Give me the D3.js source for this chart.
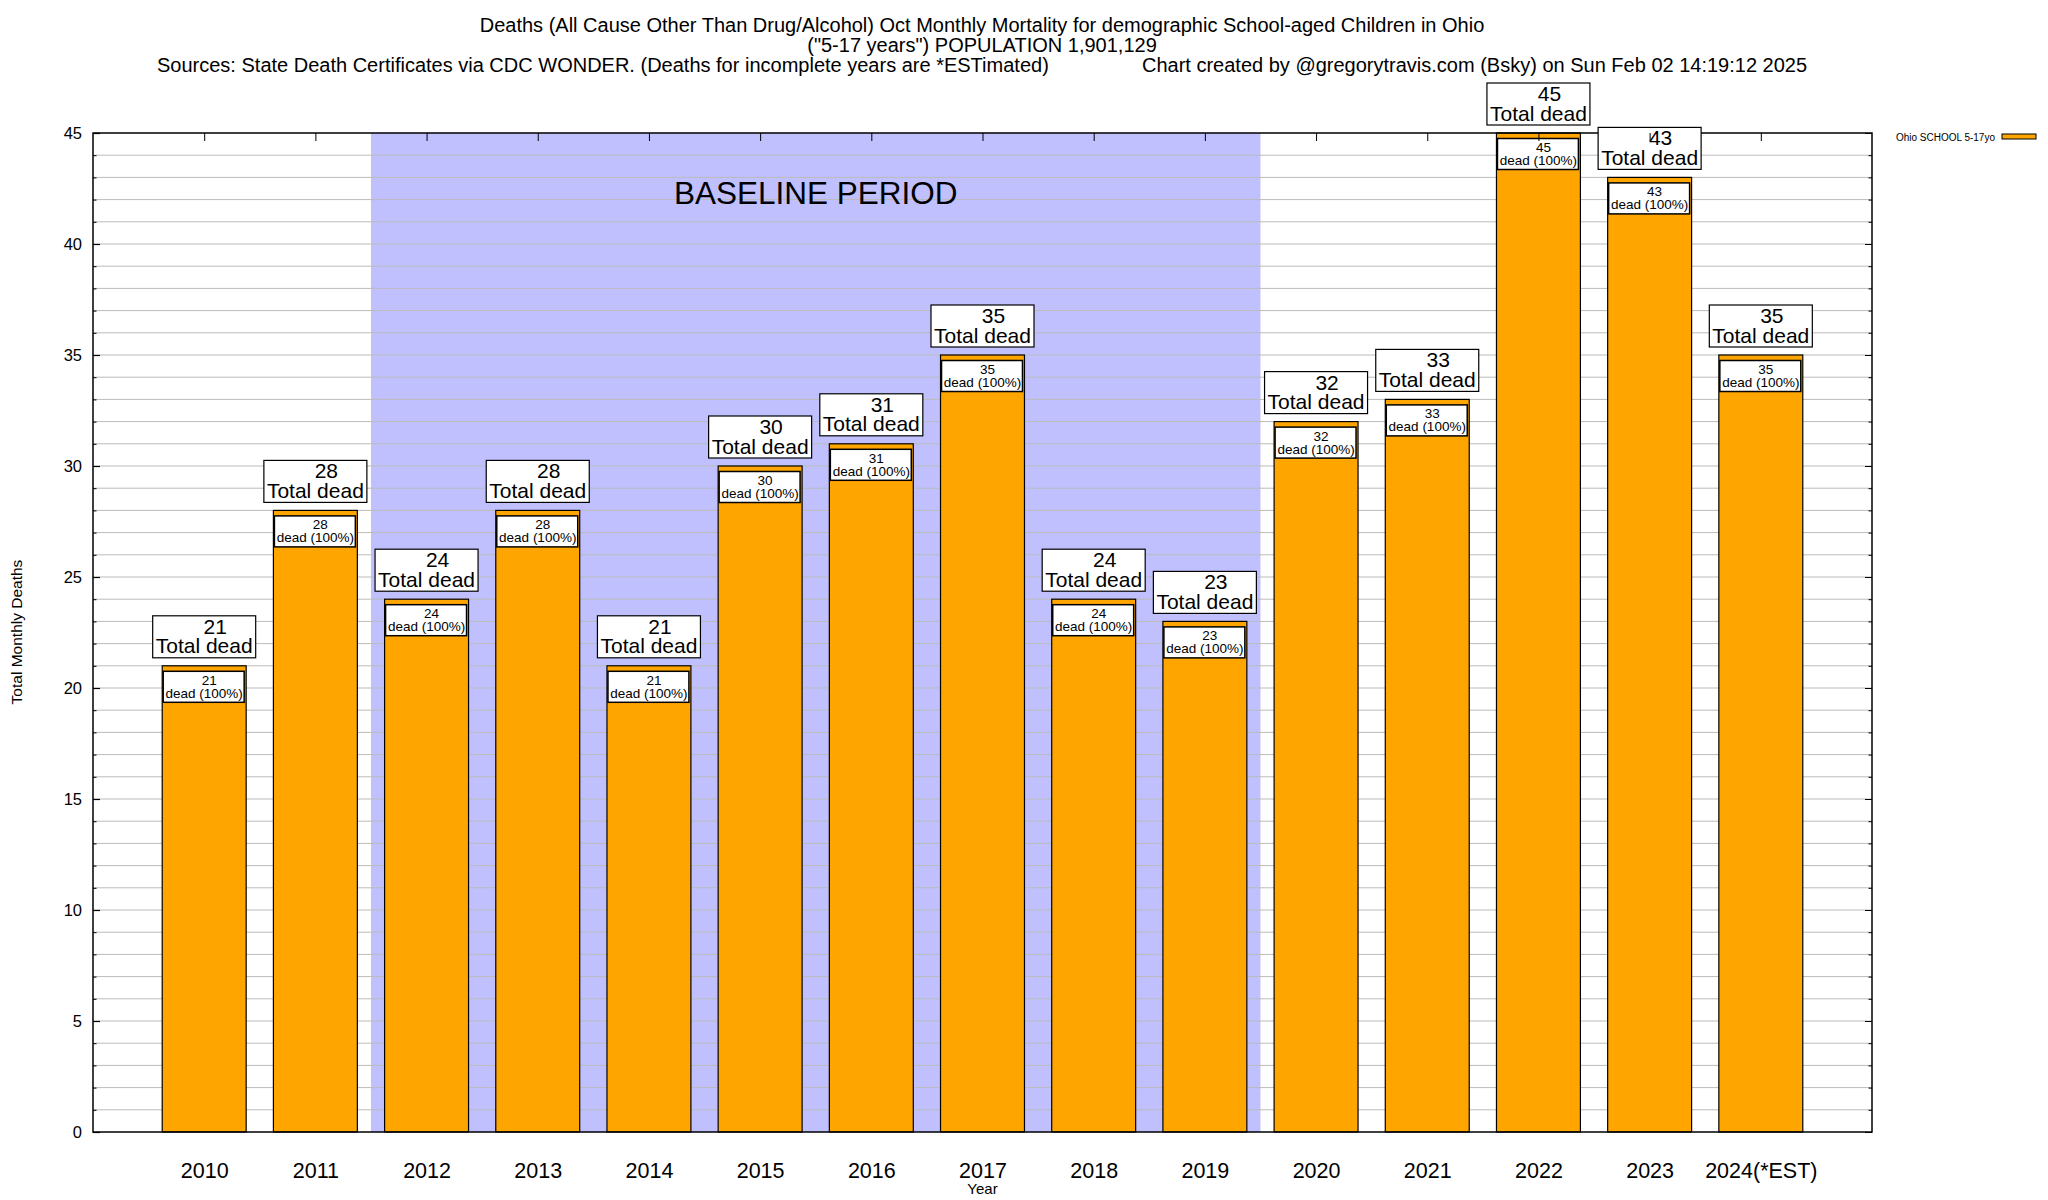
<!DOCTYPE html>
<html>
<head>
<meta charset="utf-8">
<script src="https://cdn.jsdelivr.net/npm/d3@7"></script>
<style>
  body { margin: 0; background: #fff; }
  svg { font-family: "Liberation Sans", Arial, Helvetica, sans-serif; }
</style>
</head>
<body>
<svg id="chart"></svg>
<script>
// data
const years = ["2010", "2011", "2012", "2013", "2014", "2015", "2016", "2017",
    "2018", "2019", "2020", "2021", "2022", "2023", "2024(*EST)"];
const deaths = [21, 28, 24, 28, 21, 30, 31, 35, 24, 23, 32, 33, 45, 43, 35];
const baselineRange = [1.5, 9.5];   // 2012 .. 2019 in bar-index units
const yMajorTicks = [0, 5, 10, 15, 20, 25, 30, 35, 40, 45];
const seriesName = "Ohio SCHOOL 5-17yo";

const titleLines = [
    "Deaths (All Cause Other Than Drug/Alcohol) Oct Monthly Mortality for demographic School-aged Children in Ohio",
    "(\"5-17 years\") POPULATION 1,901,129"
];
const sourceText = "Sources: State Death Certificates via CDC WONDER. (Deaths for incomplete years are *ESTimated)";
const creditText = "Chart created by @gregorytravis.com (Bsky) on Sun Feb 02 14:19:12 2025";

// layout
const W = 2048, H = 1200;
const plot = { left: 93, right: 1872, top: 133, bottom: 1132 };
const orange = "#ffa500";

const svg = d3.select("#chart").attr("width", W).attr("height", H);

const x = d3.scaleLinear().domain([-1, years.length]).range([plot.left, plot.right]);
const y = d3.scaleLinear().domain([0, 45]).range([plot.bottom, plot.top]);
const barW = (x(1) - x(0)) * 0.755;
const idx = d3.range(years.length);

// baseline shading
svg.append("rect")
    .attr("x", x(baselineRange[0]))
    .attr("y", plot.top)
    .attr("width", x(baselineRange[1]) - x(baselineRange[0]))
    .attr("height", plot.bottom - plot.top)
    .attr("fill", "#c0c0ff");

// grid every 1 death
svg.append("g")
    .selectAll("line")
    .data(d3.range(1, 45))
    .join("line")
    .attr("x1", plot.left).attr("x2", plot.right)
    .attr("y1", d => y(d)).attr("y2", d => y(d))
    .attr("stroke", "#bbbbbb")
    .attr("stroke-width", 1);

svg.append("text")
    .attr("x", (x(baselineRange[0]) + x(baselineRange[1])) / 2)
    .attr("y", 204)
    .attr("text-anchor", "middle")
    .attr("font-size", 31.5)
    .text("BASELINE PERIOD");

// bars
svg.append("g")
    .selectAll("rect")
    .data(idx)
    .join("rect")
    .attr("x", i => x(i) - barW / 2)
    .attr("y", i => y(deaths[i]))
    .attr("width", barW)
    .attr("height", i => y(0) - y(deaths[i]))
    .attr("fill", orange)
    .attr("stroke", "#000")
    .attr("stroke-width", 1.2);

// inner labels
const inner = svg.append("g").selectAll("g").data(idx).join("g");
inner.append("rect")
    .attr("x", i => x(i) - barW / 2 + 1)
    .attr("y", i => y(deaths[i]) + 5.5)
    .attr("width", barW - 3)
    .attr("height", 31)
    .attr("fill", "#fff")
    .attr("stroke", "#000")
    .attr("stroke-width", 1.5);
inner.append("text")
    .attr("x", i => x(i) + 5)
    .attr("y", i => y(deaths[i]) + 19)
    .attr("text-anchor", "middle")
    .attr("font-size", 13.5)
    .text(i => deaths[i]);
inner.append("text")
    .attr("x", i => x(i))
    .attr("y", i => y(deaths[i]) + 32)
    .attr("text-anchor", "middle")
    .attr("font-size", 13.5)
    .text("dead (100%)");

// frame
svg.append("rect")
    .attr("x", plot.left).attr("y", plot.top)
    .attr("width", plot.right - plot.left).attr("height", plot.bottom - plot.top)
    .attr("fill", "none")
    .attr("stroke", "#000")
    .attr("stroke-width", 1.5);

// outer labels above bars
const outer = svg.append("g").selectAll("g").data(idx).join("g");
outer.append("rect")
    .attr("x", i => x(i) - 51.5)
    .attr("y", i => y(deaths[i]) - 50)
    .attr("width", 103)
    .attr("height", 42)
    .attr("fill", "#fff")
    .attr("stroke", "#000")
    .attr("stroke-width", 1.2);
outer.append("text")
    .attr("x", i => x(i) + 11)
    .attr("y", i => y(deaths[i]) - 32)
    .attr("text-anchor", "middle")
    .attr("font-size", 21)
    .text(i => deaths[i]);
outer.append("text")
    .attr("x", i => x(i))
    .attr("y", i => y(deaths[i]) - 12.5)
    .attr("text-anchor", "middle")
    .attr("font-size", 21)
    .text("Total dead");

// axes
const yAxis = svg.append("g")
    .attr("transform", "translate(" + plot.left + ",0)")
    .call(d3.axisLeft(y).tickValues(yMajorTicks).tickSize(-7).tickPadding(11));
yAxis.select(".domain").remove();
yAxis.selectAll("text").attr("font-size", 16.5).attr("font-family", null);
yAxis.selectAll("line").attr("stroke-width", 1.2);

const yMinor = svg.append("g")
    .attr("transform", "translate(" + plot.left + ",0)")
    .call(d3.axisLeft(y).ticks(45).tickSize(-3.5).tickFormat(""));
yMinor.select(".domain").remove();

const yRight = svg.append("g")
    .attr("transform", "translate(" + plot.right + ",0)")
    .call(d3.axisRight(y).tickValues(yMajorTicks).tickSize(-7).tickFormat(""));
yRight.select(".domain").remove();
const yRightMinor = svg.append("g")
    .attr("transform", "translate(" + plot.right + ",0)")
    .call(d3.axisRight(y).ticks(45).tickSize(-3.5).tickFormat(""));
yRightMinor.select(".domain").remove();

const xAxis = svg.append("g")
    .attr("transform", "translate(0," + plot.bottom + ")")
    .call(d3.axisBottom(x).tickValues(idx).tickSize(0).tickPadding(31)
        .tickFormat(i => years[i]));
xAxis.select(".domain").remove();
xAxis.selectAll("text").attr("font-size", 21.5).attr("font-family", null);

const xTop = svg.append("g")
    .attr("transform", "translate(0," + plot.top + ")")
    .call(d3.axisTop(x).tickValues(idx).tickSize(-8).tickFormat(""));
xTop.select(".domain").remove();

// axis titles
svg.append("text")
    .attr("x", (plot.left + plot.right) / 2)
    .attr("y", 1194)
    .attr("text-anchor", "middle")
    .attr("font-size", 15)
    .text("Year");

svg.append("text")
    .attr("transform", "translate(22," + 632 + ") rotate(-90)")
    .attr("text-anchor", "middle")
    .attr("font-size", 15.5)
    .text("Total Monthly Deaths");

// title
svg.append("g")
    .selectAll("text")
    .data(titleLines)
    .join("text")
    .attr("x", 982)
    .attr("y", (d, i) => 31.5 + i * 20)
    .attr("text-anchor", "middle")
    .attr("font-size", 20)
    .text(d => d);
svg.append("text").attr("x", 157).attr("y", 71.5).attr("font-size", 20).text(sourceText);
svg.append("text").attr("x", 1142).attr("y", 71.5).attr("font-size", 20).text(creditText);

// legend
svg.append("text")
    .attr("x", 1995).attr("y", 140.5)
    .attr("text-anchor", "end")
    .attr("font-size", 10)
    .text(seriesName);
svg.append("rect")
    .attr("x", 2002).attr("y", 134)
    .attr("width", 34).attr("height", 5)
    .attr("fill", orange)
    .attr("stroke", "#000")
    .attr("stroke-width", 1);
</script>
</body>
</html>
